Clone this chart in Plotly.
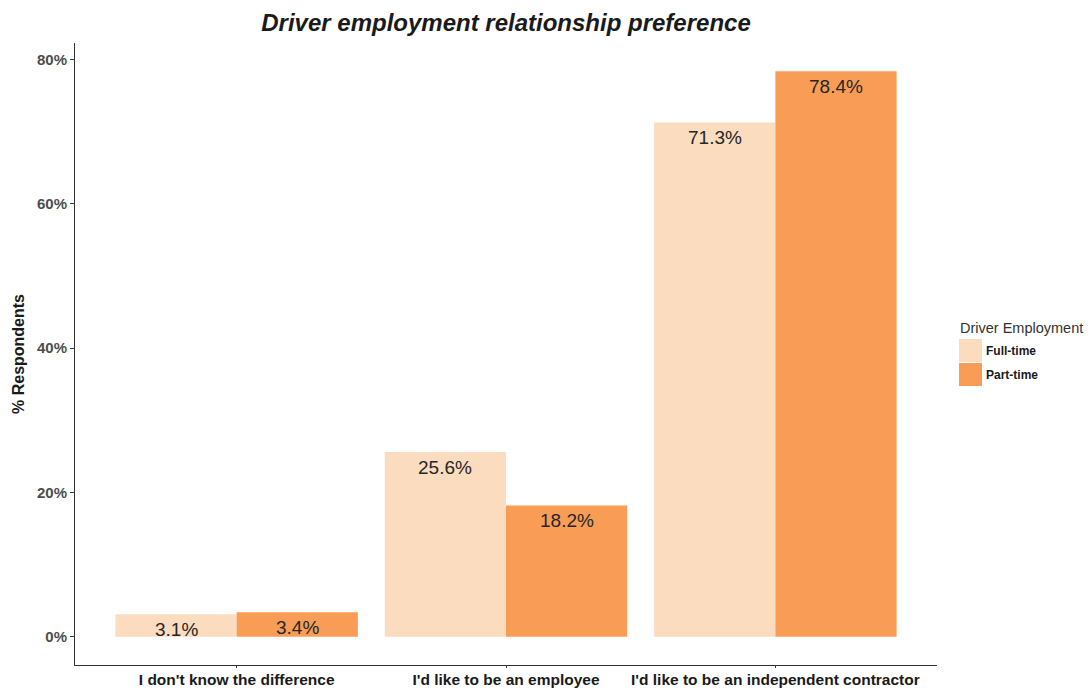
import plotly.graph_objects as go

# Survey categories and shares of respondents (percent)
categories = ["I don't know the difference", "I'd like to be an employee",
              "I'd like to be an independent contractor"]
full_time = [3.1, 25.6, 71.3]
part_time = [3.4, 18.2, 78.4]
series_names = ["Full-time", "Part-time"]
series_colors = ["#FBDCBF", "#F99D56"]
y_ticks = [0, 20, 40, 60, 80]

W, H = 1092, 689
L, R, T, B = 75, 155, 43, 24
PW, PH = W - L - R, H - T - B

def px_x(x):
    return (x - L) / PW

def px_y(y):
    return (H - B - y) / PH

font_family = "Liberation Sans, Arial, sans-serif"

fig = go.Figure()
for name, vals, col in zip(series_names, [full_time, part_time], series_colors):
    fig.add_trace(go.Bar(
        x=categories, y=vals, name=name, marker=dict(color=col, line=dict(width=0)),
        showlegend=False, offsetgroup=name,
    ))

# bar slot width in pixels (3.2 category units across the plot, 0.45 unit per bar)
slot = PW / 3.2 * 0.45

# value labels just inside the top of each bar
for i, (name, vals) in enumerate(zip(series_names, [full_time, part_time])):
    for c, v in zip(categories, vals):
        fig.add_annotation(
            x=c, y=v, text=f"{v}%", showarrow=False, yanchor="top", yshift=-3,
            xshift=(-slot / 2 if i == 0 else slot / 2),
            font=dict(family=font_family, size=19, color="#262626"),
        )

ymin = -0.05 * max(full_time + part_time)
ymax = max(full_time + part_time) * 1.05
fig.update_layout(
    width=W, height=H,
    margin=dict(l=L, r=R, t=T, b=B, autoexpand=False),
    paper_bgcolor="white", plot_bgcolor="white",
    barmode="group", bargap=0.1, bargroupgap=0,
    font=dict(family=font_family),
    title=dict(text="<b><i>Driver employment relationship preference</i></b>",
               x=px_x(506), xref="paper", xanchor="center",
               y=1 - 23 / H, yanchor="middle",
               font=dict(size=24, color="#1a1a1a")),
    xaxis=dict(
        range=[-0.6, 2.6], automargin=False,
        showline=True, linecolor="#333333", linewidth=1, mirror=False,
        ticks="outside", ticklen=2, tickcolor="#333333", ticklabelstandoff=-2,
        tickfont=dict(size=15.5, color="#1a1a1a", family=font_family),
        tickprefix="<b>", ticksuffix="</b>",
        showgrid=False, zeroline=False,
    ),
    yaxis=dict(
        range=[ymin, ymax], automargin=False,
        tickvals=y_ticks, ticktext=[f"<b>{t}%</b>" for t in y_ticks],
        showline=True, linecolor="#333333", linewidth=1,
        ticks="outside", ticklen=4, tickcolor="#333333",
        tickfont=dict(size=15, color="#4d4d4d", family=font_family),
        showgrid=False, zeroline=False,
        title=dict(text="<b>% Respondents</b>", standoff=8,
                   font=dict(size=16, color="#1a1a1a")),
    ),
)

# legend drawn as keys and labels beside the plot
fig.add_annotation(
    x=px_x(958), y=px_y(328), xref="paper", yref="paper", text="Driver Employment",
    showarrow=False, xanchor="left", yanchor="middle",
    font=dict(size=14.5, color="#333333", family=font_family),
)
for k, (name, col) in enumerate(zip(series_names, series_colors)):
    top = 339 + 24 * k
    fig.add_shape(type="rect", xref="paper", yref="paper",
                  x0=px_x(959), x1=px_x(982), y0=px_y(top + 23), y1=px_y(top),
                  fillcolor=col, line=dict(width=0))
    fig.add_annotation(
        x=px_x(984), y=px_y(top + 12), xref="paper", yref="paper",
        text=f"<b>{name}</b>", showarrow=False, xanchor="left", yanchor="middle",
        font=dict(size=12, color="#1a1a1a", family=font_family),
    )

fig.write_html("out.html")
